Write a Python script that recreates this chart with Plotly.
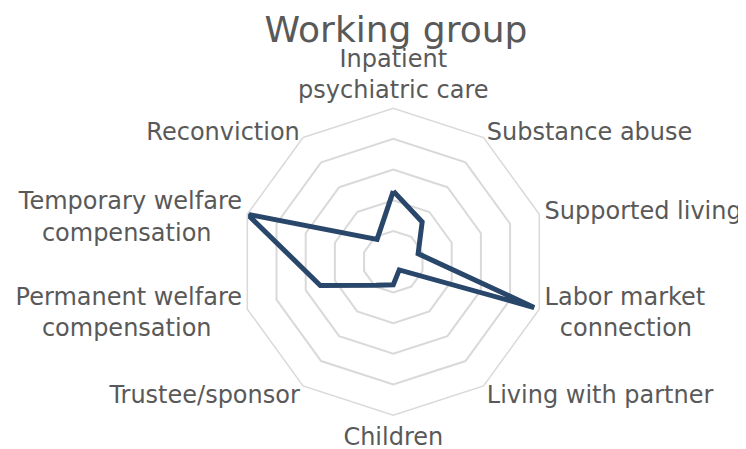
import plotly.graph_objects as go

NB = "\u00a0"
BL = "<br>" + NB  # invisible blank line, used only to nudge label placement
TL = NB + "<br>"  # invisible leading line

categories = [
    "Inpatient<br>psychiatric care",
    TL * 2 + "Substance abuse",
    "Supported living",
    "Labor market<br>" + NB * 2 + "connection" + BL,
    "Living with partner" + BL * 4,
    "Children",
    "Trustee/sponsor" + BL * 4,
    "Permanent welfare<br>compensation" + NB * 4 + BL,
    TL + "Temporary welfare<br>compensation" + NB * 4,
    TL * 2 + "Reconviction",
]
values = [0.46, 0.32, 0.17, 0.965, 0.066, 0.15, 0.19, 0.50, 1.0, 0.18]
grid_levels = [0.2, 0.4, 0.6, 0.8, 1.0]

W, H = 746, 449
OFF = 8  # page body margin
cx, cy, R = 393.3 - OFF, 261.7 - OFF, 153.5

fig = go.Figure()
fig.add_trace(go.Scatterpolar(
    r=values + [values[0]],
    theta=categories + [categories[0]],
    mode="lines",
    line=dict(color="#29476A", width=5),
    hoverinfo="skip",
    showlegend=False,
))

fig.update_layout(
    width=W, height=H,
    margin=dict(l=0, r=0, t=0, b=0),
    paper_bgcolor="white",
    font=dict(family="DejaVu Sans", color="#595959"),
    title=dict(text="Working group", x=(396 - OFF) / W, xanchor="center",
               y=1 - (29 - OFF) / H, yanchor="middle",
               font=dict(size=36, color="#595959", family="DejaVu Sans")),
    polar=dict(
        domain=dict(x=[(cx - R) / W, (cx + R) / W],
                    y=[(H - cy - R) / H, (H - cy + R) / H]),
        bgcolor="white",
        gridshape="linear",
        radialaxis=dict(range=[0, 1], tickvals=grid_levels, showticklabels=False,
                        showline=False, ticks="", gridcolor="#d9d9d9", gridwidth=1.5),
        angularaxis=dict(rotation=90, direction="clockwise", showgrid=False,
                         linecolor="#d9d9d9", linewidth=1.5, ticks="",
                         tickfont=dict(size=24, color="#595959", family="DejaVu Sans")),
    ),
)

fig.write_html("out.html")
